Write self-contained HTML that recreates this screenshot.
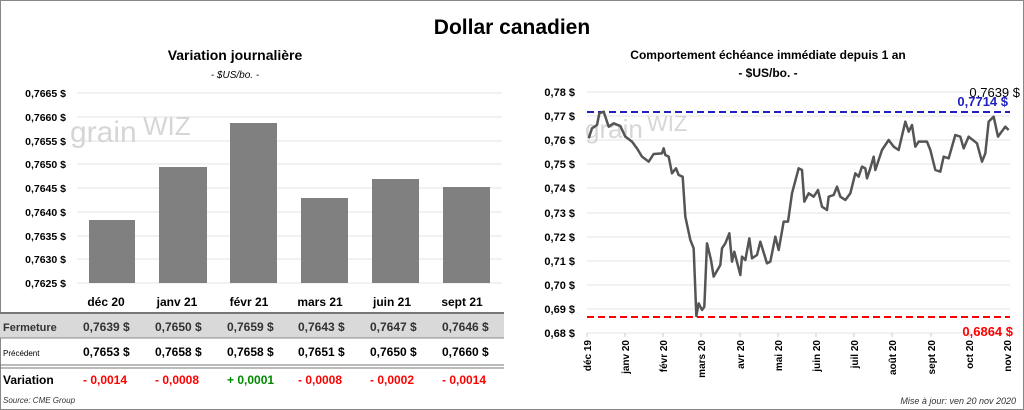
<!DOCTYPE html>
<html><head><meta charset="utf-8"><style>
body{margin:0;background:#fff;}
svg{display:block;font-family:"Liberation Sans",sans-serif;}
</style></head><body>
<svg width="1024" height="410" viewBox="0 0 1024 410">
<rect x="0.5" y="0.5" width="1023" height="409" fill="#fff" stroke="#888"/>
<text x="512" y="34" font-size="21" font-weight="bold" text-anchor="middle">Dollar canadien</text>
<!-- left chart -->
<text x="235" y="60" font-size="14" font-weight="bold" text-anchor="middle">Variation  journalière</text>
<text x="235" y="78" font-size="10" font-style="italic" text-anchor="middle">- $US/bo. -</text>
<g stroke="#e3e3e3" stroke-width="1">
<line x1="77" x2="502" y1="93" y2="93"/><line x1="77" x2="502" y1="117" y2="117"/><line x1="77" x2="502" y1="141" y2="141"/><line x1="77" x2="502" y1="164" y2="164"/><line x1="77" x2="502" y1="188" y2="188"/><line x1="77" x2="502" y1="212" y2="212"/><line x1="77" x2="502" y1="236" y2="236"/><line x1="77" x2="502" y1="259" y2="259"/><line x1="77" x2="502" y1="283" y2="283"/>
</g>
<g font-size="10.5" font-weight="bold" text-anchor="end">
<text x="66" y="97">0,7665 $</text><text x="66" y="121">0,7660 $</text><text x="66" y="145">0,7655 $</text><text x="66" y="168">0,7650 $</text><text x="66" y="192">0,7645 $</text><text x="66" y="216">0,7640 $</text><text x="66" y="240">0,7635 $</text><text x="66" y="263">0,7630 $</text><text x="66" y="287">0,7625 $</text>
</g>
<text x="70" y="142" font-size="30" fill="#d6d6d6">grain</text><text x="143" y="135" font-size="26" fill="#d6d6d6">WIZ</text>
<g fill="#808080">
<rect x="89" y="220" width="46" height="63"/><rect x="159" y="167" width="48" height="116"/><rect x="230" y="123" width="47" height="160"/><rect x="301" y="198" width="47" height="85"/><rect x="372" y="179" width="47" height="104"/><rect x="443" y="187" width="47" height="96"/>
</g>
<!-- table -->
<g font-size="12" font-weight="bold" text-anchor="middle">
<text x="106" y="306">déc 20</text><text x="177" y="306">janv 21</text><text x="249" y="306">févr 21</text><text x="320" y="306">mars 21</text><text x="392" y="306">juin 21</text><text x="462" y="306">sept 21</text>
</g>
<line x1="0" x2="504" y1="313" y2="313" stroke="#777" stroke-width="2"/>
<rect x="0" y="314" width="504" height="24" fill="#d9d9d9"/>
<line x1="0" x2="504" y1="338" y2="338" stroke="#888"/>
<g font-size="12" font-weight="bold" fill="#333">
<text x="3" y="331" font-size="11">Fermeture</text>
<text x="83" y="331">0,7639  $</text><text x="155" y="331">0,7650  $</text><text x="227" y="331">0,7659  $</text><text x="298" y="331">0,7643  $</text><text x="370" y="331">0,7647  $</text><text x="442" y="331">0,7646  $</text>
</g>
<g font-size="12" font-weight="bold">
<text x="3" y="356" font-size="8" font-weight="normal">Précédent</text>
<text x="83" y="356">0,7653  $</text><text x="155" y="356">0,7658  $</text><text x="227" y="356">0,7658  $</text><text x="298" y="356">0,7651  $</text><text x="370" y="356">0,7650  $</text><text x="442" y="356">0,7660  $</text>
</g>
<line x1="0" x2="504" y1="365" y2="365" stroke="#777"/><line x1="0" x2="504" y1="368" y2="368" stroke="#777"/>
<g font-size="12" font-weight="bold" fill="#f00">
<text x="3" y="384" fill="#000" font-size="12">Variation</text>
<text x="83" y="384">- 0,0014</text><text x="155" y="384">- 0,0008</text><text x="227" y="384" fill="#080">+ 0,0001</text><text x="298" y="384">- 0,0008</text><text x="370" y="384">- 0,0002</text><text x="442" y="384">- 0,0014</text>
</g>
<text x="3" y="403" font-size="8" font-style="italic" fill="#333">Source: CME Group</text>
<!-- right chart -->
<text x="768" y="59" font-size="12" font-weight="bold" text-anchor="middle">Comportement échéance immédiate depuis 1 an</text>
<text x="768" y="77" font-size="12" font-weight="bold" text-anchor="middle">- $US/bo. -</text>
<g stroke="#e3e3e3">
<line x1="587" x2="1010" y1="92" y2="92"/><line x1="587" x2="1010" y1="116" y2="116"/><line x1="587" x2="1010" y1="140" y2="140"/><line x1="587" x2="1010" y1="164" y2="164"/><line x1="587" x2="1010" y1="188" y2="188"/><line x1="587" x2="1010" y1="213" y2="213"/><line x1="587" x2="1010" y1="237" y2="237"/><line x1="587" x2="1010" y1="261" y2="261"/><line x1="587" x2="1010" y1="285" y2="285"/><line x1="587" x2="1010" y1="309" y2="309"/><line x1="587" x2="1010" y1="333" y2="333"/>
</g>
<g font-size="11" font-weight="bold" text-anchor="end">
<text x="575" y="96">0,78 $</text><text x="575" y="120">0,77 $</text><text x="575" y="144">0,76 $</text><text x="575" y="168">0,75 $</text><text x="575" y="192">0,74 $</text><text x="575" y="217">0,73 $</text><text x="575" y="241">0,72 $</text><text x="575" y="265">0,71 $</text><text x="575" y="289">0,70 $</text><text x="575" y="313">0,69 $</text><text x="575" y="337">0,68 $</text>
</g>
<text x="585" y="138" font-size="26" fill="#d6d6d6">grain</text><text x="647" y="131" font-size="22" fill="#d6d6d6">WIZ</text>
<g stroke="#ccc">
<line x1="587" x2="587" y1="333" y2="337"/><line x1="625" x2="625" y1="333" y2="337"/><line x1="663" x2="663" y1="333" y2="337"/><line x1="701" x2="701" y1="333" y2="337"/><line x1="740" x2="740" y1="333" y2="337"/><line x1="778" x2="778" y1="333" y2="337"/><line x1="816" x2="816" y1="333" y2="337"/><line x1="854" x2="854" y1="333" y2="337"/><line x1="892" x2="892" y1="333" y2="337"/><line x1="931" x2="931" y1="333" y2="337"/><line x1="969" x2="969" y1="333" y2="337"/><line x1="1007" x2="1007" y1="333" y2="337"/>
</g>
<g font-size="10" font-weight="bold" text-anchor="end">
<text transform="translate(591,340) rotate(-90)">déc 19</text><text transform="translate(629,340) rotate(-90)">janv 20</text><text transform="translate(667,340) rotate(-90)">févr 20</text><text transform="translate(705,340) rotate(-90)">mars 20</text><text transform="translate(744,340) rotate(-90)">avr 20</text><text transform="translate(782,340) rotate(-90)">mai 20</text><text transform="translate(820,340) rotate(-90)">juin 20</text><text transform="translate(858,340) rotate(-90)">juil 20</text><text transform="translate(896,340) rotate(-90)">août 20</text><text transform="translate(935,340) rotate(-90)">sept 20</text><text transform="translate(973,340) rotate(-90)">oct 20</text><text transform="translate(1011,340) rotate(-90)">nov 20</text>
</g>
<line x1="587" x2="1010" y1="112" y2="112" stroke="#2020c0" stroke-width="2" stroke-dasharray="7,4"/>
<line x1="587" x2="1010" y1="317" y2="317" stroke="#f00" stroke-width="2" stroke-dasharray="7,4"/>
<g transform="translate(512,40) scale(0.33333)">
<polyline fill="none" stroke="#555" stroke-width="2.5" vector-effect="non-scaling-stroke" stroke-linejoin="round" points="230,295 240,265 255,255 262,220 275,215 290,260 305,250 325,258 340,290 360,305 375,325 390,350 410,365 425,342 450,340 455,325 460,345 470,350 480,400 492,385 500,405 512,410 520,530 535,600 545,625 553,828 560,790 570,810 577,800 585,610 597,660 605,710 625,675 630,625 640,610 652,580 660,665 667,635 685,705 690,650 700,660 712,595 720,655 735,645 745,605 765,670 775,665 790,590 800,630 815,545 828,545 840,460 848,430 860,385 870,390 877,485 890,460 905,470 918,450 930,500 945,510 950,470 965,465 975,440 985,470 1000,480 1015,460 1030,400 1040,410 1050,380 1060,385 1065,415 1075,385 1085,350 1090,390 1100,360 1110,330 1130,300 1145,320 1160,330 1180,245 1190,275 1200,255 1210,320 1220,305 1245,305 1255,330 1270,390 1285,395 1295,350 1310,355 1330,285 1345,290 1355,325 1370,290 1395,310 1410,365 1420,340 1430,245 1445,230 1458,290 1480,260 1490,270"/>
</g>
<text x="1020" y="97" font-size="13" text-anchor="end">0,7639 $</text>
<text x="1008" y="106" font-size="13" font-weight="bold" fill="#2020c0" text-anchor="end">0,7714 $</text>
<text x="1013" y="336" font-size="13" font-weight="bold" fill="#f00" text-anchor="end">0,6864 $</text>
<text x="1016" y="404" font-size="9" font-style="italic" fill="#333" text-anchor="end">Mise à jour: ven 20 nov 2020</text>
</svg>
</body></html>
